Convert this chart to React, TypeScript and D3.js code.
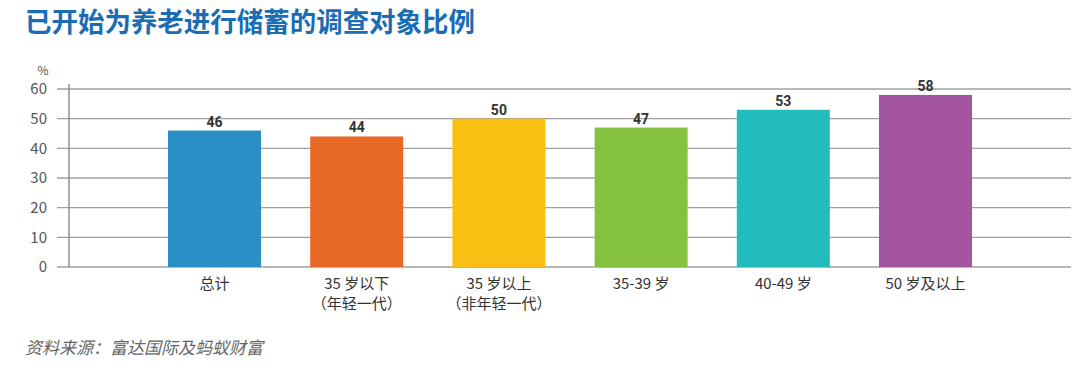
import React from "react";
import * as d3 from "d3";

const categories: string[][] = [
  ["总计"],
  ["35 岁以下", "（年轻一代）"],
  ["35 岁以上", "（非年轻一代）"],
  ["35-39 岁"],
  ["40-49 岁"],
  ["50 岁及以上"],
];
const values: number[] = [46, 44, 50, 47, 53, 58];
const colors: string[] = ["#2a8fc4", "#e86826", "#f9c013", "#84c13f", "#23bcbd", "#a355a0"];
const yTicks: number[] = [0, 10, 20, 30, 40, 50, 60];

const title = "已开始为养老进行储蓄的调查对象比例";
const source = "资料来源：富达国际及蚂蚁财富";

const W = 1089;
const H = 376;
const CJK = "'Noto Sans CJK SC', 'Noto Sans', sans-serif";

export default function App() {
  const x = d3
    .scaleBand<number>()
    .domain(d3.range(categories.length))
    .range([69, 1071])
    .paddingInner(0.346)
    .paddingOuter(0.696);
  const y = d3.scaleLinear().domain([0, 60]).range([267, 89]);

  return (
    <svg
      width={W}
      height={H}
      style={{ position: "absolute", left: 0, top: 0, background: "#fff" }}
      fontFamily={CJK}
    >
      <text x={25} y={32} fontSize={27} fontWeight="bold" fill="#1a6db5" textLength={450} lengthAdjust="spacingAndGlyphs">
        {title}
      </text>

      {yTicks.map((t) => (
        <g key={t}>
          <line x1={57} x2={1071} y1={y(t)} y2={y(t)} stroke="#a0a0a0" strokeWidth={1.4} />
          <text
            x={47}
            y={y(t)}
            dy="0.36em"
            textAnchor="end"
            fontSize={15}
            fill="#555"
          >
            {t}
          </text>
        </g>
      ))}
      <text x={43} y={75} textAnchor="middle" fontSize={12} fill="#555">
        %
      </text>
      <line x1={69} x2={69} y1={84} y2={267} stroke="#8a8a8a" strokeWidth={1.4} />

      {values.map((v, i) => (
        <g key={i}>
          <rect
            x={x(i)!}
            y={y(v)}
            width={x.bandwidth()}
            height={y(0) - y(v)}
            fill={colors[i]}
          />
          <text
            x={x(i)! + x.bandwidth() / 2}
            y={y(v) - 4}
            textAnchor="middle"
            fontSize={14}
            fontWeight="bold"
            fontFamily="Roboto, sans-serif"
            fill="#333"
          >
            {v}
          </text>
          {categories[i].map((line, j) => (
            <text
              key={j}
              x={x(i)! + x.bandwidth() / 2}
              y={289 + j * 20}
              textAnchor="middle"
              fontSize={15}
              fill="#333"
            >
              {line}
            </text>
          ))}
        </g>
      ))}

      <text x={25} y={354} fontSize={17} fontStyle="italic" fill="#666">
        {source}
      </text>
    </svg>
  );
}
